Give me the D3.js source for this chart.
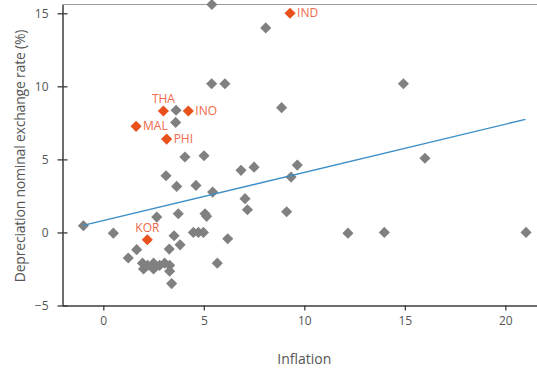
<!DOCTYPE html>
<html>
<head>
<meta charset="utf-8">
<script src="https://cdn.jsdelivr.net/npm/d3@7"></script>
<style>
  body { margin: 0; background: #fff; }
  svg { display: block; font-family: "Open Sans", sans-serif; }
</style>
</head>
<body>
<svg id="chart" width="537" height="368"></svg>
<script>
// countries (grey diamonds): inflation / depreciation
const grayInfl = [5.4, 8.08, 5.39, 6.05, 14.93, 3.62, 3.6, 8.87, 4.06, 5.01, 16.0,
  3.12, 3.65, 4.61, 6.85, 7.5, 9.65, 9.34, 5.44, 7.05, 7.17, 9.12, 3.73, 5.06, 5.14, 2.66,
  -0.99, 0.5, 4.48, 4.73, 4.98, 3.52, 6.19, 12.17, 13.98, 21.03,
  1.66, 3.28, 3.82, 1.24, 5.67,
  1.95, 2.0, 2.2, 2.5, 2.5, 2.8, 3.05, 3.3, 3.3, 3.4];
const grayDepr = [15.6, 14.0, 10.18, 10.18, 10.18, 8.36, 7.53, 8.54, 5.16, 5.25, 5.08,
  3.88, 3.15, 3.22, 4.25, 4.47, 4.61, 3.79, 2.76, 2.31, 1.55, 1.42, 1.28, 1.28, 1.1, 1.05,
  0.46, -0.05, 0, 0, 0, -0.23, -0.43, -0.05, 0, 0,
  -1.18, -1.14, -0.85, -1.75, -2.1,
  -2.1, -2.5, -2.25, -2.1, -2.5, -2.25, -2.1, -2.25, -2.65, -3.5];

// highlighted Asian countries
const labels = ['IND', 'THA', 'INO', 'MAL', 'PHI', 'KOR'];
const labInfl = [9.29, 2.99, 4.23, 1.63, 3.15, 2.19];
const labDepr = [15.0, 8.31, 8.31, 7.26, 6.39, -0.5];

// fitted line
const fitInfl = [-1.0, 21.0];
const fitDepr = [0.48, 7.74];

const xTicks = [0, 5, 10, 15, 20];
const yTicks = [-5, 0, 5, 10, 15];

const svg = d3.select('#chart');
const x = d3.scaleLinear().domain([-2.03, 21.6]).range([62.5, 537.5]);
const y = d3.scaleLinear().domain([-5, 15.6]).range([305.5, 4.5]);

const textCol = '#555';
const axisCol = '#3c3c3c';

// top border
svg.append('line')
  .attr('x1', x.range()[0]).attr('x2', 537)
  .attr('y1', 4.5).attr('y2', 4.5)
  .attr('stroke', '#9a9a9a').attr('stroke-width', 1.2);

// x axis
const xAxis = svg.append('g')
  .attr('transform', `translate(0,${y(-5)})`)
  .call(d3.axisBottom(x).tickValues(xTicks).tickSize(5).tickPadding(6).tickSizeOuter(0));
xAxis.select('.domain').attr('stroke', axisCol).attr('stroke-width', 1.5);
xAxis.selectAll('.tick line').attr('stroke', axisCol).attr('stroke-width', 1.3);
xAxis.selectAll('text').attr('fill', textCol).style('font-size', '12px')
  .style('font-family', '"Open Sans", sans-serif');

// y axis
const yAxis = svg.append('g')
  .attr('transform', `translate(${x.range()[0]},0)`)
  .call(d3.axisLeft(y).tickValues(yTicks).tickSize(5).tickPadding(9).tickSizeOuter(0)
    .tickFormat(d => d < 0 ? '\u2212' + Math.abs(d) : d));
yAxis.select('.domain').attr('stroke', axisCol).attr('stroke-width', 1.5);
yAxis.selectAll('.tick line').attr('stroke', axisCol).attr('stroke-width', 1.3).attr('x2', 5).attr('x1', -5);
yAxis.selectAll('text').attr('fill', textCol).style('font-size', '12px')
  .style('font-family', '"Open Sans", sans-serif');

// axis titles
svg.append('text')
  .attr('x', x(10)).attr('y', 364)
  .attr('text-anchor', 'middle')
  .attr('fill', textCol).style('font-size', '14px')
  .text('Inflation');

svg.append('text')
  .attr('transform', `translate(25,${156}) rotate(-90)`)
  .attr('text-anchor', 'middle')
  .attr('fill', textCol).style('font-size', '14px')
  .style('letter-spacing', '-0.2px')
  .text('Depreciation nominal exchange rate (%)');

// diamond
const diamond = d3.symbol().type(d3.symbolSquare).size(62);

svg.append('g').selectAll('path')
  .data(grayInfl)
  .enter()
  .append('path')
  .attr('d', diamond)
  .attr('transform', (d, i) => `translate(${x(d)},${y(grayDepr[i])}) rotate(45)`)
  .attr('fill', '#808080');

// fit line
svg.append('line')
  .attr('x1', x(fitInfl[0])).attr('y1', y(fitDepr[0]))
  .attr('x2', x(fitInfl[1])).attr('y2', y(fitDepr[1]))
  .attr('stroke', '#3b8dc6').attr('stroke-width', 1.3);

// labelled points
svg.append('g').selectAll('path')
  .data(labInfl)
  .enter()
  .append('path')
  .attr('d', diamond)
  .attr('transform', (d, i) => `translate(${x(d)},${y(labDepr[i])}) rotate(45)`)
  .attr('fill', '#e8501c');

const above = ['THA', 'KOR'];
svg.append('g').selectAll('text')
  .data(labels)
  .enter()
  .append('text')
  .text(d => d)
  .attr('x', (d, i) => above.includes(d) ? x(labInfl[i]) : x(labInfl[i]) + 7)
  .attr('y', (d, i) => above.includes(d) ? y(labDepr[i]) - 8 : y(labDepr[i]) + 4)
  .attr('text-anchor', d => above.includes(d) ? 'middle' : 'start')
  .attr('fill', '#f0694a')
  .style('font-size', '12px');
</script>
</body>
</html>
